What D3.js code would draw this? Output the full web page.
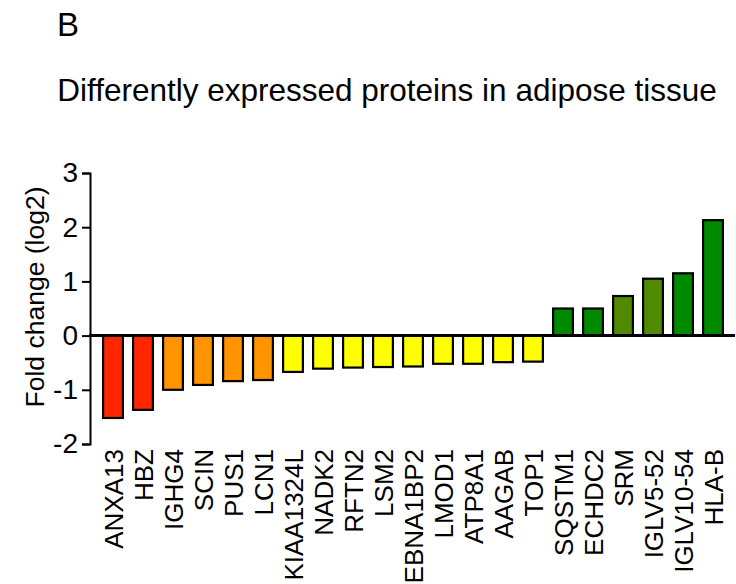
<!DOCTYPE html>
<html>
<head>
<meta charset="utf-8">
<script src="https://cdn.jsdelivr.net/npm/d3@7"></script>
<style>
body { margin: 0; background: #fff; }
text { font-family: Arial, "Liberation Sans", sans-serif; }
</style>
</head>
<body>
<svg id="chart" width="736" height="584"></svg>
<script>
// proteins, left to right
var proteins = ["ANXA13","HBZ","IGHG4","SCIN","PUS1","LCN1","KIAA1324L","NADK2","RFTN2","LSM2",
    "EBNA1BP2","LMOD1","ATP8A1","AAGAB","TOP1","SQSTM1","ECHDC2","SRM","IGLV5-52","IGLV10-54","HLA-B"];
var foldChange = [-1.52,-1.37,-1.0,-0.91,-0.84,-0.82,-0.67,-0.61,-0.59,-0.58,
    -0.57,-0.52,-0.52,-0.49,-0.48,0.5,0.5,0.73,1.05,1.15,2.13];
var colorGroup = ["red","red","orange","orange","orange","orange","yellow","yellow","yellow","yellow",
    "yellow","yellow","yellow","yellow","yellow","green","green","olive","olive","green","green"];
var yTicks = [-2,-1,0,1,2,3];

var palette = {red:"#ff2600", orange:"#ff9300", yellow:"#ffff00", green:"#008a00", olive:"#4f8a00"};

var svg = d3.select("#chart");

svg.append("text")
    .attr("x", 57).attr("y", 36)
    .attr("font-size", 33)
    .text("B");

svg.append("text")
    .attr("x", 387).attr("y", 101)
    .attr("text-anchor", "middle")
    .attr("font-size", 31.5)
    .text("Differently expressed proteins in adipose tissue");

var y = d3.scaleLinear().domain([-2, 3]).range([444, 173]);
var x = d3.scaleBand().domain(proteins).range([98, 728])
    .paddingInner(0.34).paddingOuter(0.17);

// y axis
var yAxis = svg.append("g")
    .attr("transform", "translate(90,0)")
    .call(d3.axisLeft(y).tickValues(yTicks).tickSize(8).tickPadding(4)
        .tickFormat(function(d) { return String(d); }));
yAxis.select(".domain").attr("stroke", "#000").attr("stroke-width", 2);
yAxis.selectAll(".tick line").attr("stroke", "#000").attr("stroke-width", 2);
yAxis.selectAll(".tick text")
    .attr("font-size", 28)
    .attr("fill", "#000")
    .attr("font-family", "Arial, 'Liberation Sans', sans-serif");

svg.append("text")
    .attr("transform", "translate(44," + 297 + ") rotate(-90)")
    .attr("text-anchor", "middle")
    .attr("font-size", 26.5)
    .text("Fold change (log2)");

// bars
svg.append("g").selectAll("rect")
    .data(proteins)
    .enter().append("rect")
    .attr("x", function(d) { return x(d); })
    .attr("y", function(d, i) { return y(Math.max(0, foldChange[i])); })
    .attr("width", x.bandwidth())
    .attr("height", function(d, i) { return Math.abs(y(foldChange[i]) - y(0)); })
    .attr("fill", function(d, i) { return palette[colorGroup[i]]; })
    .attr("stroke", "#000")
    .attr("stroke-width", 2.2);

// zero line
svg.append("line")
    .attr("x1", 89).attr("x2", 735)
    .attr("y1", y(0)).attr("y2", y(0))
    .attr("stroke", "#000")
    .attr("stroke-width", 3);

// category labels
svg.append("g").selectAll("text")
    .data(proteins)
    .enter().append("text")
    .attr("transform", function(d) {
        return "translate(" + (x(d) + x.bandwidth() / 2 + 9.5) + ",449) rotate(-90)";
    })
    .attr("text-anchor", "end")
    .attr("font-size", 26)
    .text(function(d) { return d; });
</script>
</body>
</html>
